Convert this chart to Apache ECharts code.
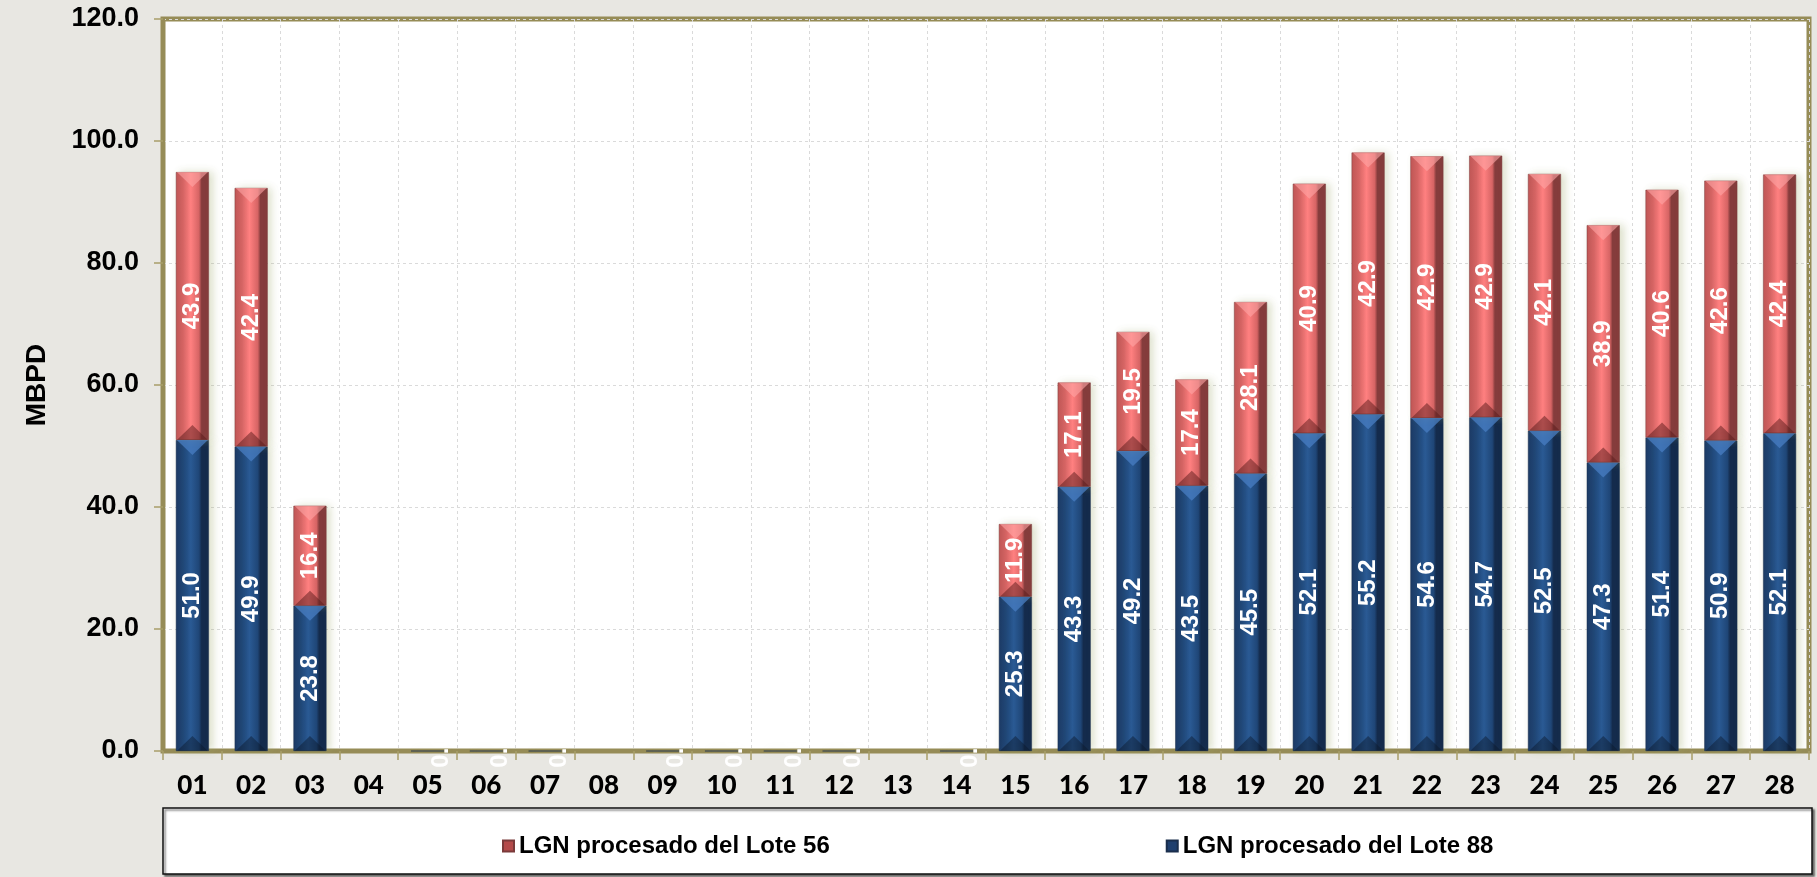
<!DOCTYPE html>
<html>
<head>
<meta charset="utf-8">
<script src="https://cdn.jsdelivr.net/npm/echarts@6/dist/echarts.min.js"></script>
<style>
html,body{margin:0;padding:0;background:#E8E7E2;}
#chart{width:1817px;height:877px;}
</style>
</head>
<body>
<div id="chart"></div>
<script>
const days = ['01','02','03','04','05','06','07','08','09','10','11','12','13','14','15','16','17','18','19','20','21','22','23','24','25','26','27','28'];
const lote88 = [51.0,49.9,23.8,null,0,0,0,null,0,0,0,0,null,0,25.3,43.3,49.2,43.5,45.5,52.1,55.2,54.6,54.7,52.5,47.3,51.4,50.9,52.1];
const lote56 = [43.9,42.4,16.4,null,null,null,null,null,null,null,null,null,null,null,11.9,17.1,19.5,17.4,28.1,40.9,42.9,42.9,42.9,42.1,38.9,40.6,42.6,42.4];
const yTicks = [0,20,40,60,80,100,120];
const name56 = 'LGN procesado del Lote 56';
const name88 = 'LGN procesado del Lote 88';

const olive = '#968C57';
const BAR_W = 33;
const chart = echarts.init(document.getElementById('chart'));

function grad(c1, c2, c3, c4) {
  return new echarts.graphic.LinearGradient(0,0,1,0,[
    {offset:0, color:c1},{offset:0.22, color:c2},{offset:0.45, color:c3},{offset:0.7, color:c2},{offset:0.78, color:c4},{offset:1, color:c4}
  ]);
}
const blueFill = grad('#1B3966','#1F4677','#2A5A94','#142B4C');
const redFill = grad('#C05656','#D66464','#FF8080','#853C3C');

const labelCommon = {
  show: true, position: 'inside', rotate: 90, color: '#FFFFFF',
  fontFamily: 'Liberation Sans', fontWeight: 'bold', fontSize: 24,
  formatter: p => (p.value == null ? '' : Number(p.value).toFixed(1))
};

function withZeroLabels(arr) {
  return arr.map(v => (v === 0 ? {value: 0, label: {offset: [0, 14]}} : v));
}

// bevel segments: [categoryIndex, base, top, seriesKind]
const bevelData = [];
days.forEach((d, i) => {
  const b = lote88[i] || 0;
  const r = lote56[i] || 0;
  if (b > 0) bevelData.push([i, 0, b, 0]);
  if (r > 0) bevelData.push([i, b, b + r, 1]);
});

const bevelColors = [
  {top: 'rgba(72,125,195,0.75)', bot: 'rgba(12,24,45,0.45)'},
  {top: 'rgba(255,165,165,0.6)', bot: 'rgba(90,25,25,0.5)'}
];

function renderBevel(params, api) {
  const i = api.value(0);
  const p0 = api.coord([i, api.value(1)]);
  const p1 = api.coord([i, api.value(2)]);
  const kind = api.value(3);
  const xc = p0[0], x0 = xc - BAR_W / 2, x1 = xc + BAR_W / 2;
  const yb = p0[1], yt = p1[1];
  const h = Math.min(15, (yb - yt) / 2.5);
  const c = bevelColors[kind];
  return {
    type: 'group',
    children: [
      {type: 'polygon', shape: {points: [[x0 + 1, yt], [x1 - 1, yt], [xc, yt + h]]}, style: {fill: c.top}},
      {type: 'polygon', shape: {points: [[x0 + 1, yb], [xc, yb - h], [x1 - 1, yb]]}, style: {fill: c.bot}}
    ]
  };
}

chart.setOption({
  backgroundColor: '#E8E7E2',
  animation: false,
  grid: {left: 163, top: 19, right: 8, bottom: 126, show: true, backgroundColor: '#FFFFFF', borderColor: olive, borderWidth: 5},
  graphic: [{
    type: 'rect', z: 0, silent: true,
    shape: {x: 163, y: 808, width: 1649, height: 66},
    style: {fill: '#FFFFFF', stroke: '#111111', lineWidth: 1.5, shadowColor: 'rgba(0,0,0,0.5)', shadowOffsetX: 2, shadowOffsetY: 2, shadowBlur: 2}
  }],
  legend: {
    z: 5,
    left: 497, top: 829,
    itemWidth: 11, itemHeight: 11, itemGap: 336,
    icon: 'rect',
    textStyle: {fontFamily: 'Liberation Sans', fontWeight: 'bold', fontSize: 24, color: '#000'},
    data: [
      {name: name56, itemStyle: {color: '#B44A4A'}},
      {name: name88, itemStyle: {color: '#1F3F6E'}}
    ]
  },
  xAxis: {
    type: 'category', data: days, boundaryGap: true,
    axisLine: {show: true, lineStyle: {color: olive, width: 4}},
    axisTick: {show: true, length: 9, lineStyle: {color: '#A89E6A', width: 1.5}},
    axisLabel: {margin: 22, fontFamily: 'Lato', fontWeight: 900, fontSize: 26, color: '#000'},
    splitLine: {show: true, lineStyle: {color: '#DADADA', type: [3,3], width: 1}}
  },
  yAxis: {
    type: 'value', min: yTicks[0], max: yTicks[yTicks.length-1], interval: 20,
    name: 'MBPD', nameLocation: 'middle', nameGap: 112,
    nameTextStyle: {fontFamily: 'Liberation Sans', fontWeight: 'bold', fontSize: 28, color: '#000'},
    axisLine: {show: true, lineStyle: {color: olive, width: 4}},
    axisTick: {show: true, length: 9, lineStyle: {color: '#A89E6A', width: 1.5}},
    axisLabel: {margin: 24, fontFamily: 'Liberation Sans', fontWeight: 'bold', fontSize: 27, color: '#000', formatter: v => v.toFixed(1)},
    splitLine: {show: true, lineStyle: {color: '#DADADA', type: [3,3], width: 1}}
  },
  series: [
    {
      name: name88, type: 'bar', stack: 'total', barWidth: BAR_W, data: withZeroLabels(lote88),
      itemStyle: {color: blueFill, borderColor: '#1A2E4C', borderWidth: 0.5, shadowColor: 'rgba(160,170,110,0.35)', shadowBlur: 8, shadowOffsetX: 4},
      label: labelCommon
    },
    {
      name: name56, type: 'bar', stack: 'total', barWidth: BAR_W, data: lote56,
      itemStyle: {color: redFill, borderColor: '#7A3A3A', borderWidth: 0.5, shadowColor: 'rgba(160,170,110,0.35)', shadowBlur: 8, shadowOffsetX: 4},
      label: labelCommon
    },
    {
      name: 'bevel', type: 'custom', silent: true, z: 3, clip: false,
      coordinateSystem: 'cartesian2d',
      renderItem: renderBevel, data: bevelData,
      dimensions: ['idx', 'base', 'top', 'kind'],
      encode: {x: 0, y: 2}, tooltip: {show: false}
    }
  ]
});
</script>
</body>
</html>
